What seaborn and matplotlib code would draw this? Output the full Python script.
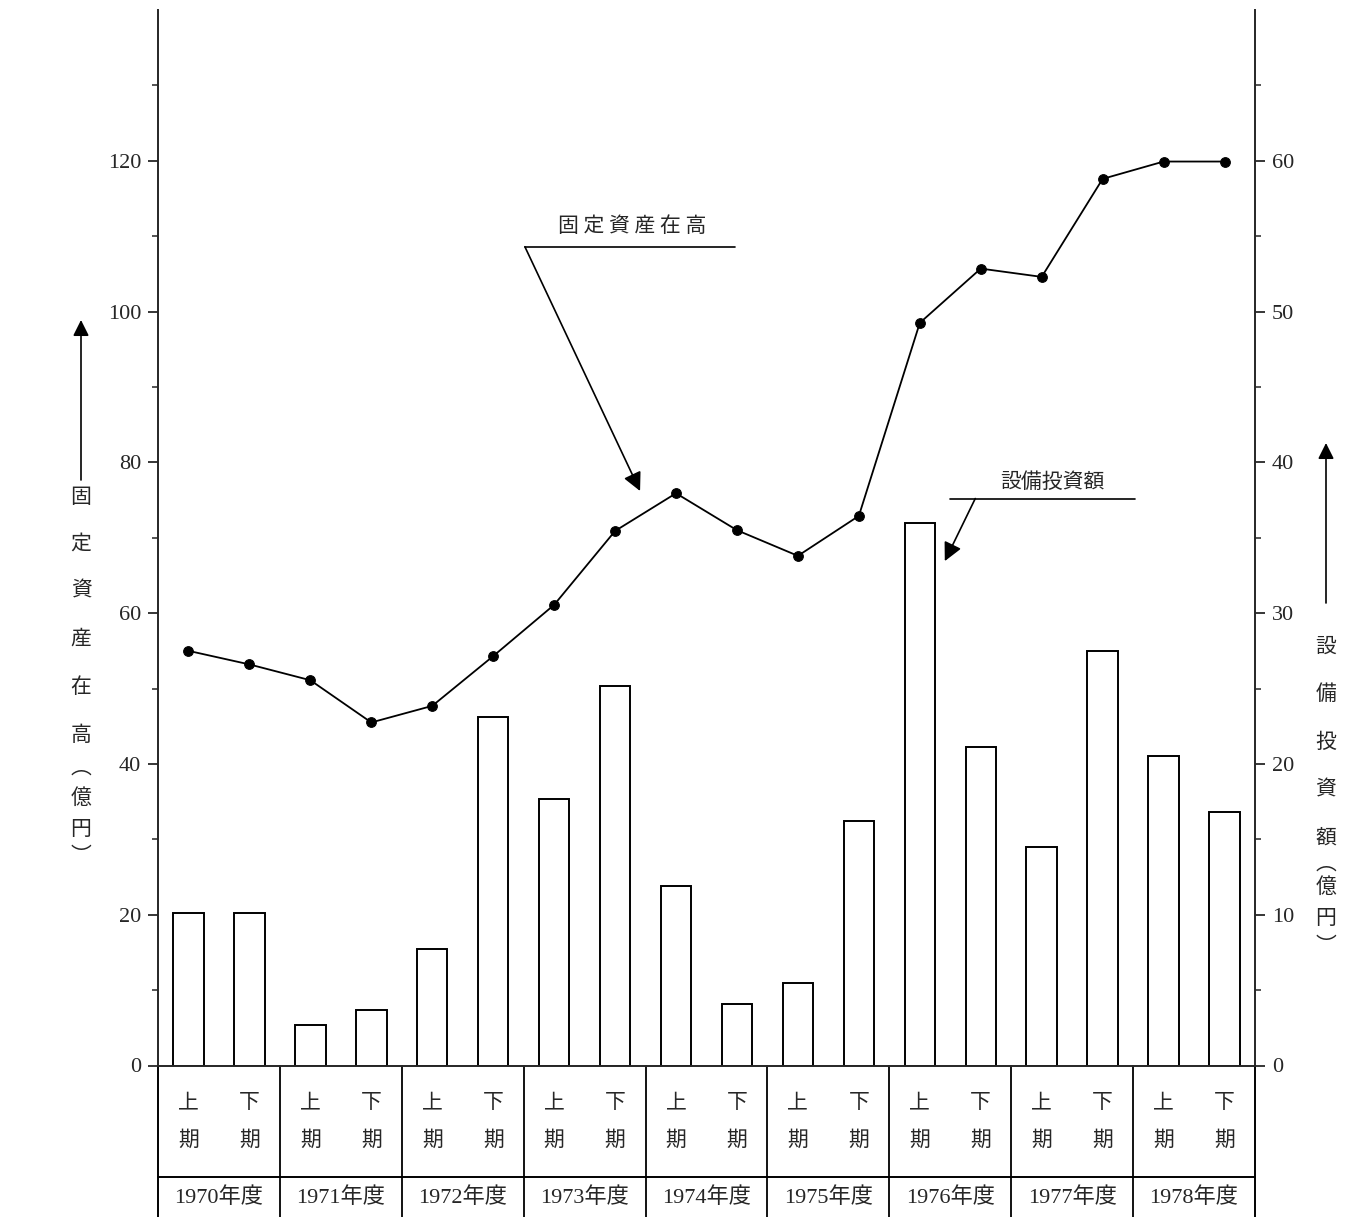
import numpy as np
import pandas as pd
import matplotlib
matplotlib.use("Agg")
import matplotlib.pyplot as plt
import seaborn as sns

# data
years = ['1970', '1971', '1972', '1973', '1974', '1975', '1976', '1977', '1978']
halves = ['上期', '下期']
# 固定資産在高 (億円, left axis)
fixed_assets = [55.0, 53.2, 51.1, 45.5, 47.7, 54.3, 61.1, 70.9, 75.9,
                71.0, 67.6, 72.9, 98.5, 105.7, 104.6, 117.6, 119.9, 119.9]
# 設備投資額 (億円, right axis)
capex = [10.1, 10.1, 2.7, 3.7, 7.7, 23.1, 17.7, 25.2, 11.9,
         4.1, 5.5, 16.2, 36.0, 21.1, 14.5, 27.5, 20.5, 16.8]

df = pd.DataFrame({
    'idx': np.arange(len(capex)),
    'year': np.repeat(years, 2),
    'half': halves * len(years),
    'fixed_assets': fixed_assets,
    'capex': capex,
})

sns.set_style('ticks')
plt.rcParams['font.family'] = ['Liberation Serif', 'Noto Sans CJK JP', 'DejaVu Sans']
cjk = ['Noto Sans CJK JP', 'DejaVu Sans']
num_cjk = ['Liberation Serif', 'Noto Sans CJK JP']

W, H = 1346, 1217
fig = plt.figure(figsize=(W / 100, H / 100), dpi=100)
bottom_px, top_px = 1065.5, 10
ax = fig.add_axes([158 / W, (H - bottom_px) / H, (1255 - 158) / W, (bottom_px - top_px) / H])

# line on left axis
sns.lineplot(data=df, x='idx', y='fixed_assets', ax=ax, color='black', lw=1.3,
             marker='o', markersize=7, markeredgecolor='black', zorder=5)

# bars on right axis
ax2 = ax.twinx()
sns.barplot(data=df, x='idx', y='capex', ax=ax2, color='white', edgecolor='black',
            linewidth=1.4, width=0.5, saturation=1)
ax.set_zorder(ax2.get_zorder() + 1)
ax.patch.set_visible(False)

n = len(df)
ax.set_xlim(-0.5, n - 0.5)
ax.set_ylim(0, 140)
ax2.set_ylim(0, 70)

ax.set_yticks(np.arange(0, 121, 20))
ax.set_yticks(np.arange(10, 131, 20), minor=True)
ax2.set_yticks(np.arange(0, 61, 10))
ax2.set_yticks(np.arange(5, 66, 10), minor=True)
for a in (ax, ax2):
    a.set_xticks([])
    a.set_xlabel('')
    a.set_ylabel('')
    a.spines['top'].set_visible(False)
    for s in a.spines.values():
        s.set_linewidth(1.4)
    a.tick_params(axis='y', which='major', length=7, width=1.3, labelsize=16, pad=5)
    a.tick_params(axis='y', which='minor', length=4, width=1.1)
ax.spines['right'].set_visible(False)
ax2.spines['left'].set_visible(False)
ax2.spines['bottom'].set_visible(False)
ax.spines['bottom'].set_visible(True)

# table under the axis
ax_h = bottom_px - top_px
def yfrac(py):
    return (bottom_px - py) / ax_h

trans = ax.get_xaxis_transform()
y_row = yfrac(1177)
y_end = yfrac(H + 5)
ax.plot([-0.5, n - 0.5], [y_row, y_row], transform=trans, color='black', lw=1.4, clip_on=False)
for b in [-0.5, n - 0.5]:
    ax.plot([b, b], [0, y_end], transform=trans, color='black', lw=1.4, clip_on=False)
for k in range(1, len(years)):
    b = 2 * k - 0.5
    ax.plot([b, b], [0, y_end], transform=trans, color='black', lw=1.3, clip_on=False)

for i, h in zip(df['idx'], df['half']):
    ax.text(i, yfrac(1102), h[0], transform=trans, ha='center', va='center',
            fontsize=15, family=cjk)
    ax.text(i, yfrac(1140), h[1], transform=trans, ha='center', va='center',
            fontsize=15, family=cjk)
for k, yr in enumerate(years):
    ax.text(2 * k + 0.5, yfrac(1198), yr + '年度', transform=trans, ha='center',
            va='center', fontsize=16, family=num_cjk)

# callouts
ax.text(7.28, 111.3, '固 定 資 産 在 高', ha='center', va='center', fontsize=15, family=cjk)
ax.plot([5.52, 8.97], [108.6, 108.6], color='black', lw=1.2)
ax.annotate('', xy=(7.41, 76.2), xytext=(5.52, 108.6),
            arrowprops=dict(arrowstyle='-|>', color='black', lw=1.2, mutation_scale=28,
                            shrinkA=0, shrinkB=0))
ax.text(14.17, 77.4, '設備投資額', ha='center', va='center', fontsize=15, family=cjk)
ax.plot([12.5, 15.53], [75.2, 75.2], color='black', lw=1.2)
ax.annotate('', xy=(12.41, 66.9), xytext=(12.91, 75.2),
            arrowprops=dict(arrowstyle='-|>', color='black', lw=1.2, mutation_scale=28,
                            shrinkA=0, shrinkB=0))

# vertical axis titles with arrows
def vlabel(x_px, chars, ys_px, arrow):
    for ch, y in zip(chars, ys_px):
        fig.text(x_px / W, (H - y) / H, ch, ha='center', va='center', fontsize=15, family=cjk)
    fig.add_artist(matplotlib.patches.FancyArrowPatch(
        (x_px / W, (H - arrow[0]) / H), (x_px / W, (H - arrow[1]) / H),
        transform=fig.transFigure, arrowstyle='-|>', mutation_scale=24,
        color='black', lw=1.2, shrinkA=0, shrinkB=0))

vlabel(81, ['固', '定', '資', '産', '在', '高', '︵', '億', '円', '︶'],
       [497, 544, 591, 639, 687, 735, 768, 798, 829, 856], (480, 320))
vlabel(1326, ['設', '備', '投', '資', '額', '︵', '億', '円', '︶'],
       [647, 694, 742, 790, 838, 864, 887, 918, 946], (603, 443))

fig.savefig('out.png', dpi=100)
